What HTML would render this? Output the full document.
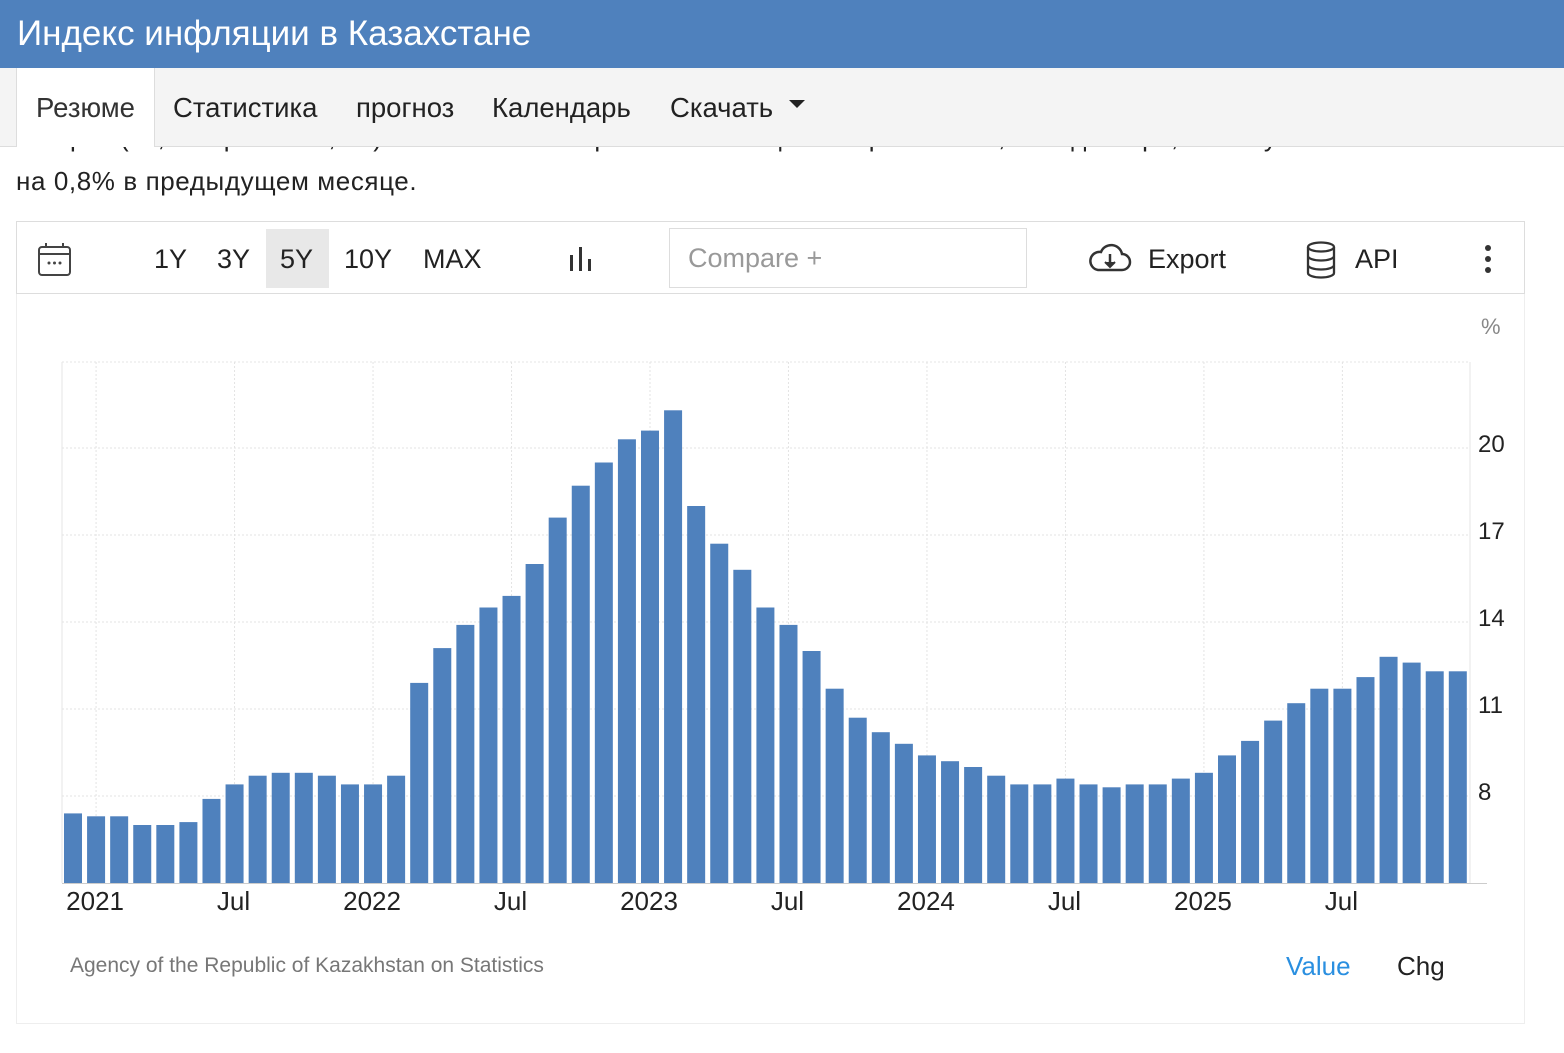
<!DOCTYPE html>
<html><head><meta charset="utf-8"><style>
body{margin:0;width:1564px;height:1053px;background:#fff;font-family:"Liberation Sans",sans-serif;position:relative;overflow:hidden;color:#222}
.abs{position:absolute}
#hdr{left:0;top:0;width:1564px;height:68px;background:#4f81bd;color:#fff;font-size:35px;line-height:68px;padding-left:17px;box-sizing:border-box}
#tabs{left:0;top:68px;width:1564px;height:78px;background:#f4f4f4;border-bottom:1px solid #ddd;z-index:2}
.tab{position:absolute;top:0;height:78px;line-height:80px;font-size:27.5px;color:#222}
#intro1{left:16px;top:122px;font-size:26px;color:#222;white-space:nowrap;z-index:1}
#intro2{left:16px;top:166px;font-size:26px;letter-spacing:0.6px;color:#222}
#toolbar{left:16px;top:221px;width:1509px;height:73px;border:1px solid #ddd;box-sizing:border-box}
.tb{position:absolute;font-size:27px;color:#222;top:22px}
#chartbox{left:16px;top:294px;width:1509px;height:730px;border:1px solid #eee;border-top:none;box-sizing:border-box}
</style></head><body>
<div id="hdr" class="abs">Индекс инфляции в Казахстане</div>
<div id="intro1" class="abs">товаров (10,0% против 10,1%). Ежемесячно потребительские цены выросли на 0,9% в декабре, после увеличения</div>
<div id="tabs" class="abs">
 <div class="tab" style="left:16px;width:137px;background:#fff;border-left:1px solid #ddd;border-right:1px solid #ddd;height:79px;text-align:center;color:#333">Резюме</div>
 <div class="tab" style="left:173px">Статистика</div>
 <div class="tab" style="left:356px">прогноз</div>
 <div class="tab" style="left:492px">Календарь</div>
 <div class="tab" style="left:670px">Скачать <span style="display:inline-block;width:0;height:0;border-left:8px solid transparent;border-right:8px solid transparent;border-top:8px solid #222;vertical-align:middle;margin-left:8px;position:relative;top:-6px"></span></div>
</div>
<div id="intro2" class="abs">на 0,8% в предыдущем месяце.</div>
<div id="toolbar" class="abs">
 <svg class="abs" style="left:20px;top:20px" width="36" height="36"><rect x="2" y="5" width="31" height="28" rx="3" fill="none" stroke="#444" stroke-width="2"/><line x1="2" y1="12" x2="33" y2="12" stroke="#444" stroke-width="2"/><line x1="9" y1="1" x2="9" y2="6" stroke="#444" stroke-width="2"/><line x1="26" y1="1" x2="26" y2="6" stroke="#444" stroke-width="2"/><circle cx="12" cy="21" r="1.5" fill="#444"/><circle cx="17.5" cy="21" r="1.5" fill="#444"/><circle cx="23" cy="21" r="1.5" fill="#444"/></svg>
 <div class="tb" style="left:137px">1Y</div>
 <div class="tb" style="left:200px">3Y</div>
 <div class="abs" style="left:249px;top:7px;width:63px;height:59px;background:#e8e8e8"></div>
 <div class="tb" style="left:263px">5Y</div>
 <div class="tb" style="left:327px">10Y</div>
 <div class="tb" style="left:406px">MAX</div>
 <svg class="abs" style="left:552px;top:24px" width="26" height="26"><rect x="1" y="9" width="3" height="16" fill="#333"/><rect x="10" y="1" width="3" height="24" fill="#333"/><rect x="19" y="13" width="3" height="12" fill="#333"/></svg>
 <div class="abs" style="left:652px;top:6px;width:358px;height:60px;border:1px solid #ddd;box-sizing:border-box;font-size:27px;color:#999;line-height:58px;padding-left:18px">Compare +</div>
 <svg class="abs" style="left:1071px;top:20px" width="44" height="34"><path d="M10 28 H34 A8 8 0 0 0 34 12 A11 11 0 0 0 13 10 A9 9 0 0 0 10 28 Z" fill="none" stroke="#333" stroke-width="2.5"/><line x1="22" y1="12" x2="22" y2="24" stroke="#333" stroke-width="2.5"/><path d="M17 20 L22 25 L27 20" fill="#333" stroke="#333" stroke-width="2"/></svg>
 <div class="tb" style="left:1131px">Export</div>
 <svg class="abs" style="left:1288px;top:19px" width="32" height="38"><ellipse cx="16" cy="6" rx="13" ry="4.5" fill="none" stroke="#333" stroke-width="2.3"/><path d="M3 6 V32 A13 4.5 0 0 0 29 32 V6 M3 15 A13 4.5 0 0 0 29 15 M3 24 A13 4.5 0 0 0 29 24" fill="none" stroke="#333" stroke-width="2.3"/></svg>
 <div class="tb" style="left:1338px">API</div>
 <svg class="abs" style="left:1466px;top:22px" width="10" height="30"><circle cx="5" cy="4" r="3" fill="#333"/><circle cx="5" cy="15" r="3" fill="#333"/><circle cx="5" cy="26" r="3" fill="#333"/></svg>
</div>
<div id="chartbox" class="abs"></div>
<svg id="chart" class="abs" style="left:0;top:0" width="1564" height="1053"></svg>
<div class="abs" style="left:70px;top:954px;font-size:21px;color:#777">Agency of the Republic of Kazakhstan on Statistics</div>
<div class="abs" style="left:1286px;top:951px;font-size:26px;color:#2a8fe0">Value</div>
<div class="abs" style="left:1397px;top:951px;font-size:26px;color:#222">Chg</div>
<script>
const values=[7.4,7.3,7.3,7.0,7.0,7.1,7.9,8.4,8.7,8.8,8.8,8.7,8.4,8.4,8.7,11.9,13.1,13.9,14.5,14.9,16.0,17.6,18.7,19.5,20.3,20.6,21.3,18.0,16.7,15.8,14.5,13.9,13.0,11.7,10.7,10.2,9.8,9.4,9.2,9.0,8.7,8.4,8.4,8.6,8.4,8.3,8.4,8.4,8.6,8.8,9.4,9.9,10.6,11.2,11.7,11.7,12.1,12.8,12.6,12.3,12.3];
const yTicks=[8,11,14,17,20];
const xLabels=["2021","Jul","2022","Jul","2023","Jul","2024","Jul","2025","Jul"];
const xLabelIdx=[1,7,13,19,25,31,37,43,49,55];
const NS="http://www.w3.org/2000/svg";
const svg=document.getElementById('chart');
const y=v=>883-(v-5)*29;
const x=i=>73+i*23.08;
function mk(t,a){const e=document.createElementNS(NS,t);for(const k in a)e.setAttribute(k,a[k]);svg.appendChild(e);return e;}
let g=mk('line',{x1:62,y1:362,x2:1470,y2:362,stroke:'#e6e6e6','stroke-dasharray':'2,2'});


g=mk('line',{x1:62,y1:362,x2:62,y2:883,stroke:'#e6e6e6'});


g=mk('line',{x1:1470,y1:362,x2:1470,y2:883,stroke:'#e6e6e6'});


yTicks.forEach(t=>{
 const l=mk('line',{x1:62,x2:1470,y1:y(t),y2:y(t),stroke:'#e3e3e3','stroke-dasharray':'2,2'});
 
 
 const tx=mk('text',{x:1478,y:y(t)+4,'font-size':24,fill:'#222','font-family':'Liberation Sans'});
 tx.textContent=t;
 
 
});
xLabelIdx.forEach((idx,k)=>{
 const l=mk('line',{x1:x(idx),x2:x(idx),y1:362,y2:883,stroke:'#e3e3e3','stroke-dasharray':'2,2'});
 
 
 const tx=mk('text',{x:x(idx)-1,y:910,'font-size':26,fill:'#222','text-anchor':'middle','font-family':'Liberation Sans'});
 tx.textContent=xLabels[k];
 
 
});
const unit=mk('text',{x:1481,y:334,'font-size':22,fill:'#888','font-family':'Liberation Sans'});
unit.textContent='%';


values.forEach((v,i)=>{
 const r=mk('rect',{x:x(i)-9,y:y(v),width:18,height:883-y(v),fill:'#4f81bd'});
 
 
});
const ax=mk('line',{x1:62,x2:1487,y1:883.5,y2:883.5,stroke:'#ccc'});


</script>
</body></html>
